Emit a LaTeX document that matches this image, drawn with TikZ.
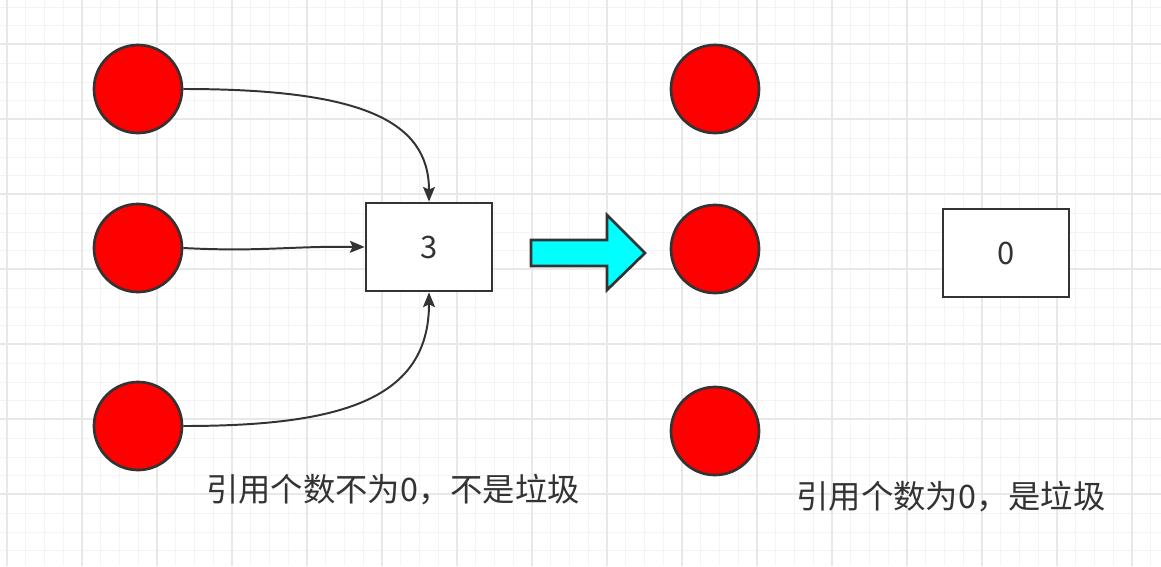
\documentclass[tikz,border=0pt]{standalone}
\usepackage{fontspec}
\setmainfont{Noto Sans CJK SC}
\usepackage{tikz}
\usetikzlibrary{arrows.meta}
\usetikzlibrary{calc}

\definecolor{linegray}{HTML}{333333}
\definecolor{gridminor}{HTML}{F4F4F4}
\definecolor{gridmajor}{HTML}{E8E8E8}
\definecolor{arrowcyan}{HTML}{00FFFF}
\definecolor{ballred}{HTML}{FF0000}

\begin{document}
\begin{tikzpicture}[x=0.025cm, y=-0.025cm,
        ball_style/.style={circle,draw=linegray,fill=ballred,line width=1.9pt,minimum size=2.2cm,inner sep=0pt},
        count_style/.style={rectangle,draw=linegray,fill=white,line width=1.9pt,minimum width=3.15cm,minimum height=2.2cm,text=linegray,font=\fontsize{22pt}{26pt}\selectfont},
        caption_style/.style={text=linegray,font=\fontsize{23pt}{28pt}\selectfont},
        edge_style/.style={draw=linegray,line width=1.4pt,-{Stealth[length=10.5pt,width=8.5pt,inset=2pt]}},
        grid_minor/.style={draw=gridminor,line width=0.7pt},
        grid_major/.style={draw=gridmajor,line width=0.9pt}]

        \useasboundingbox (0,0) rectangle (1161,566);
        \fill[white] (0,0) rectangle (1161,566);

        % background grid
        \foreach \i in {0,...,61} {
            \draw [grid_minor] ({7+18.75*\i},0) -- ({7+18.75*\i},566);
        }
        \foreach \i in {0,...,30} {
            \draw [grid_minor] (0,{7+18.75*\i}) -- (1161,{7+18.75*\i});
        }
        \foreach \i in {0,...,15} {
            \draw [grid_major] ({7+75*\i},0) -- ({7+75*\i},566);
        }
        \foreach \i in {0,...,7} {
            \draw [grid_major] (0,{44+75*\i}) -- (1161,{44+75*\i});
        }

        % before
        \node [ball_style](b1) at (138,89) {};

        \node [ball_style](b2) at (138,248) {};

        \node [ball_style](b3) at (138,426) {};

        \node [count_style](c1) at (429,247) {3};

        \draw [edge_style] (b1.east) .. controls (360,89) and (429,120) .. (c1.north);

        \draw [edge_style] (b2.east) .. controls (260,252) and (290,246) .. (c1.west);

        \draw [edge_style] (b3.east) .. controls (340,426) and (429,400) .. (c1.south);

        \node [caption_style](t1) at (393,490) {引用个数不为0，不是垃圾};

        % big arrow
        \filldraw [draw=linegray,fill=arrowcyan,line width=1.9pt,line join=miter]
            (531,240) -- (607,240) -- (607,215) -- (645,253) -- (607,290) -- (607,266) -- (531,266) -- cycle;

        % after
        \node [ball_style](a1) at (715,89) {};

        \node [ball_style](a2) at (715,249) {};

        \node [ball_style](a3) at (715,431) {};

        \node [count_style](c2) at (1006,253) {0};

        \node [caption_style](t2) at (951,497) {引用个数为0，是垃圾};

        \end{tikzpicture}
\end{document}
